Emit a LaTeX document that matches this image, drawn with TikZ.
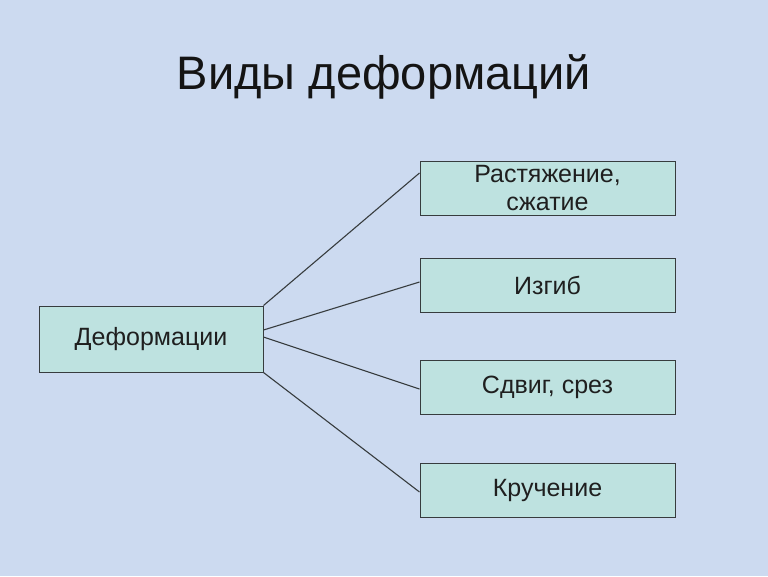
\documentclass[tikz,border=0pt]{standalone}
\usepackage{fontspec}
\setmainfont{Liberation Sans}
\definecolor{bgc}{RGB}{204,218,240}
\definecolor{boxfill}{RGB}{190,226,224}
\definecolor{boxline}{RGB}{55,60,62}
\begin{document}
\begin{tikzpicture}[x=1pt,y=-1pt,
  box/.style={draw=boxline, line width=1pt, fill=boxfill, inner sep=0pt,
    minimum width=255pt, minimum height=54pt, align=center,
    font=\fontsize{25}{28}\selectfont, text=black!88},
  link/.style={draw=boxline, line width=1.1pt}]
\fill[bgc] (0,0) rectangle (768,576);
\useasboundingbox (0,0) rectangle (768,576);
\node[font=\fontsize{47}{52}\selectfont, text=black!92] (title) at (384,77) {Виды деформаций};
\node[box, minimum width=224pt, minimum height=66pt] (main) at (151,339) {Деформации};
\node[box] (b1) at (547.5,188) {Растяжение,\\сжатие};
\node[box] (b2) at (547.5,285) {Изгиб};
\node[box] (b3) at (547.5,387.5) {Сдвиг, срез};
\node[box] (b4) at (547.5,490) {Кручение};
\draw[link] (main.north east) -- ([yshift=15pt]b1.west);
\draw[link] ([yshift=9pt]main.east) -- ([yshift=3pt]b2.west);
\draw[link] ([yshift=2pt]main.east) -- ([yshift=-1.5pt]b3.west);
\draw[link] (main.south east) -- ([yshift=-2pt]b4.west);
\end{tikzpicture}
\end{document}
